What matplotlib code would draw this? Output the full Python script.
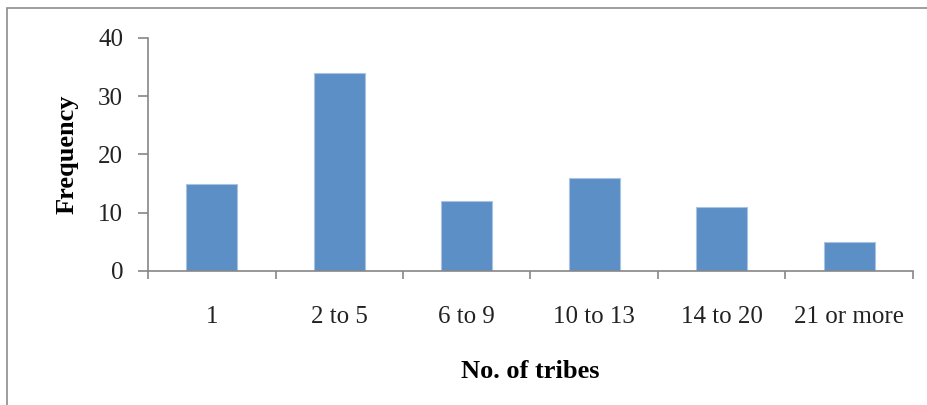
import matplotlib.pyplot as plt
from matplotlib.patches import Rectangle

categories = ["1", "2 to 5", "6 to 9", "10 to 13", "14 to 20", "21 or more"]
frequency = [15, 34, 12, 16, 11, 5]

plt.rcParams['font.family'] = ['Liberation Serif', 'DejaVu Serif']

fig = plt.figure(figsize=(9.28, 4.05), dpi=100)
ax = fig.add_axes([0.1595, 0.331, 0.8243, 0.5752])

# outer chart frame
fig.patches.append(Rectangle((7 / 928, -0.05), 1.0, 1 - 8 / 405 + 0.05,
                             transform=fig.transFigure, fill=False,
                             edgecolor='#8c8c8c', linewidth=1.2))

x = range(len(categories))
ax.bar(x, frequency, width=0.4, color='#5b8fc6', edgecolor='#a9c4e3', linewidth=0.8)

ax.set_xlim(-0.5, len(categories) - 0.5)
ax.set_ylim(0, 40)
ax.set_yticks([0, 10, 20, 30, 40])

ax.set_xticks(list(x))
ax.set_xticklabels(categories, fontsize=18, color='#222222')
ax.set_xticks([i - 0.5 for i in range(len(categories) + 1)], minor=True)
ax.tick_params(axis='x', which='major', length=0, pad=25)
ax.tick_params(axis='x', which='minor', length=6, color='#868686', width=1.2)
ax.tick_params(axis='y', length=7, color='#868686', width=1.2, labelsize=18,
               labelcolor='#222222', pad=11)

for s in ['top', 'right']:
    ax.spines[s].set_visible(False)
for s in ['left', 'bottom']:
    ax.spines[s].set_color('#868686')
    ax.spines[s].set_linewidth(1.2)

ax.set_xlabel("No. of tribes", fontsize=19, fontweight='bold', labelpad=23)
ax.set_ylabel("Frequency", fontsize=19, fontweight='bold', labelpad=14)

fig.savefig("out.png", dpi=100)
